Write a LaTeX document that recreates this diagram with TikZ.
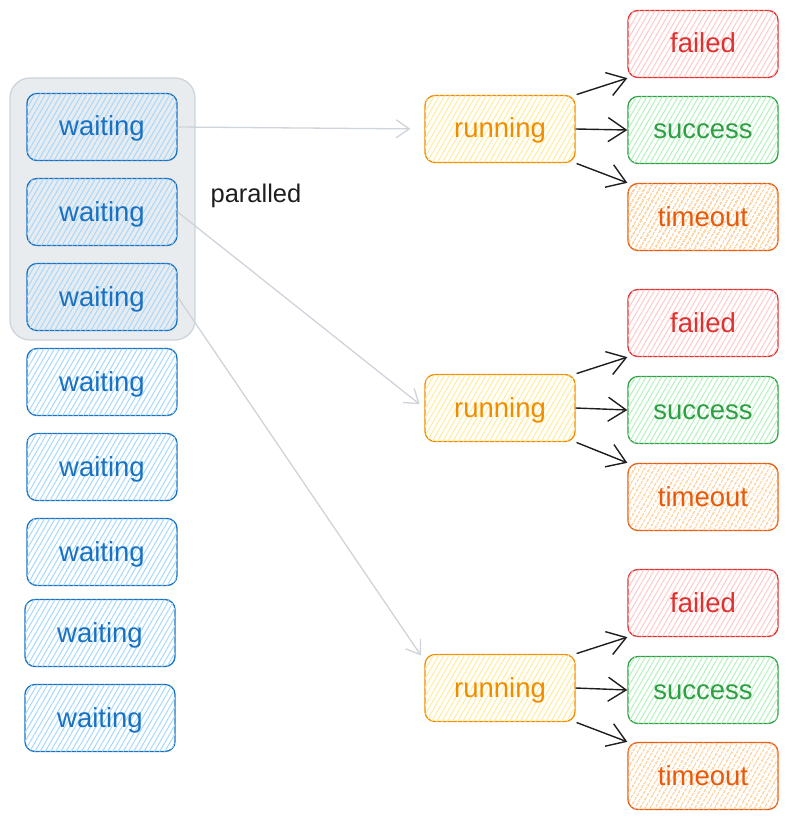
\documentclass[tikz,border=0pt]{standalone}
\usepackage{fontspec}
\setmainfont{Liberation Sans}
\usetikzlibrary{arrows.meta,patterns.meta}
\definecolor{wblue}{HTML}{1971C2}
\definecolor{whatch}{HTML}{A5D8FF}
\definecolor{rorange}{HTML}{F08C00}
\definecolor{rhatch}{HTML}{FFEC99}
\definecolor{fred}{HTML}{E03131}
\definecolor{fhatch}{HTML}{FFC9C9}
\definecolor{sgreen}{HTML}{2F9E44}
\definecolor{shatch}{HTML}{B2F2BB}
\definecolor{torange}{HTML}{E8590C}
\definecolor{thatch}{HTML}{FFC078}
\definecolor{grpfill}{HTML}{E9ECEF}
\definecolor{grpline}{HTML}{CED4DA}
\definecolor{ink}{HTML}{1E1E1E}
\tikzset{
  box/.style={draw, rounded corners=10pt, minimum width=150pt, minimum height=67pt,
    line width=1.3pt, inner sep=0pt, text height=23pt, text depth=5pt,
    font=\fontsize{27.5}{32}\selectfont},
  hatch/.style={postaction={pattern={Lines[angle=60,distance=4.5pt,line width=1pt]}, pattern color=#1}},
  waitbox/.style={box, draw=wblue, text=wblue, hatch=whatch},
  runbox/.style={box, draw=rorange, text=rorange, hatch=rhatch},
  failbox/.style={box, draw=fred, text=fred, hatch=fhatch},
  succbox/.style={box, draw=sgreen, text=sgreen, hatch=shatch},
  timebox/.style={box, draw=torange, text=torange, postaction={pattern={Lines[angle=60,distance=4pt,line width=1.4pt]}, pattern color=thatch}},
  grparrow/.style={draw=grpline, line width=1.3pt, -{Straight Barb[length=13pt,width=18pt,line width=1.3pt]}},
  blkarrow/.style={draw=ink, line width=1.4pt, -{Straight Barb[length=18pt,width=24pt,line width=1.4pt]}},
}
\begin{document}
\begin{tikzpicture}[x=1pt,y=-1pt]
\useasboundingbox (0,0) rectangle (789,821);
\node[draw=grpline, fill=grpfill, line width=1.3pt, rounded corners=20pt, minimum width=185pt, minimum height=262pt] (grp) at (102.5,209) {};
\node[waitbox] (w1) at (102,127) {waiting};
\node[waitbox] (w2) at (102,212) {waiting};
\node[waitbox] (w3) at (102,297) {waiting};
\node[waitbox] (w4) at (102,382) {waiting};
\node[waitbox] (w5) at (102,467) {waiting};
\node[waitbox] (w6) at (102,552) {waiting};
\node[waitbox] (w7) at (100,633) {waiting};
\node[waitbox] (w8) at (100,718) {waiting};
\node[text=ink, font=\fontsize{25.5}{30}\selectfont] (par) at (256,196) {paralled};

\node[runbox] (r1) at (500,129) {running};
\node[runbox] (r2) at (500,408) {running};
\node[runbox] (r3) at (500,688) {running};

\node[failbox] (f1) at (703,44) {failed};
\node[succbox] (s1) at (703,130) {success};
\node[timebox] (t1) at (703,217) {timeout};
\node[failbox] (f2) at (703,323) {failed};
\node[succbox] (s2) at (703,410) {success};
\node[timebox] (t2) at (703,497) {timeout};
\node[failbox] (f3) at (703,603) {failed};
\node[succbox] (s3) at (703,690) {success};
\node[timebox] (t3) at (703,776) {timeout};

\draw[grparrow, shorten >=14pt] (w1.east) -- (r1.west);
\draw[grparrow, shorten >=6pt] (w2.east) -- (r2.west);
\draw[grparrow, shorten >=6pt] (w3.east) -- (r3.160);

\foreach \i in {1,2,3}{
  \draw[blkarrow, shorten <=1pt] (r\i.north east) -- (f\i.south west);
  \draw[blkarrow] (r\i.east) -- (s\i.west);
  \draw[blkarrow, shorten <=1pt] (r\i.south east) -- (t\i.north west);
}
\end{tikzpicture}
\end{document}
